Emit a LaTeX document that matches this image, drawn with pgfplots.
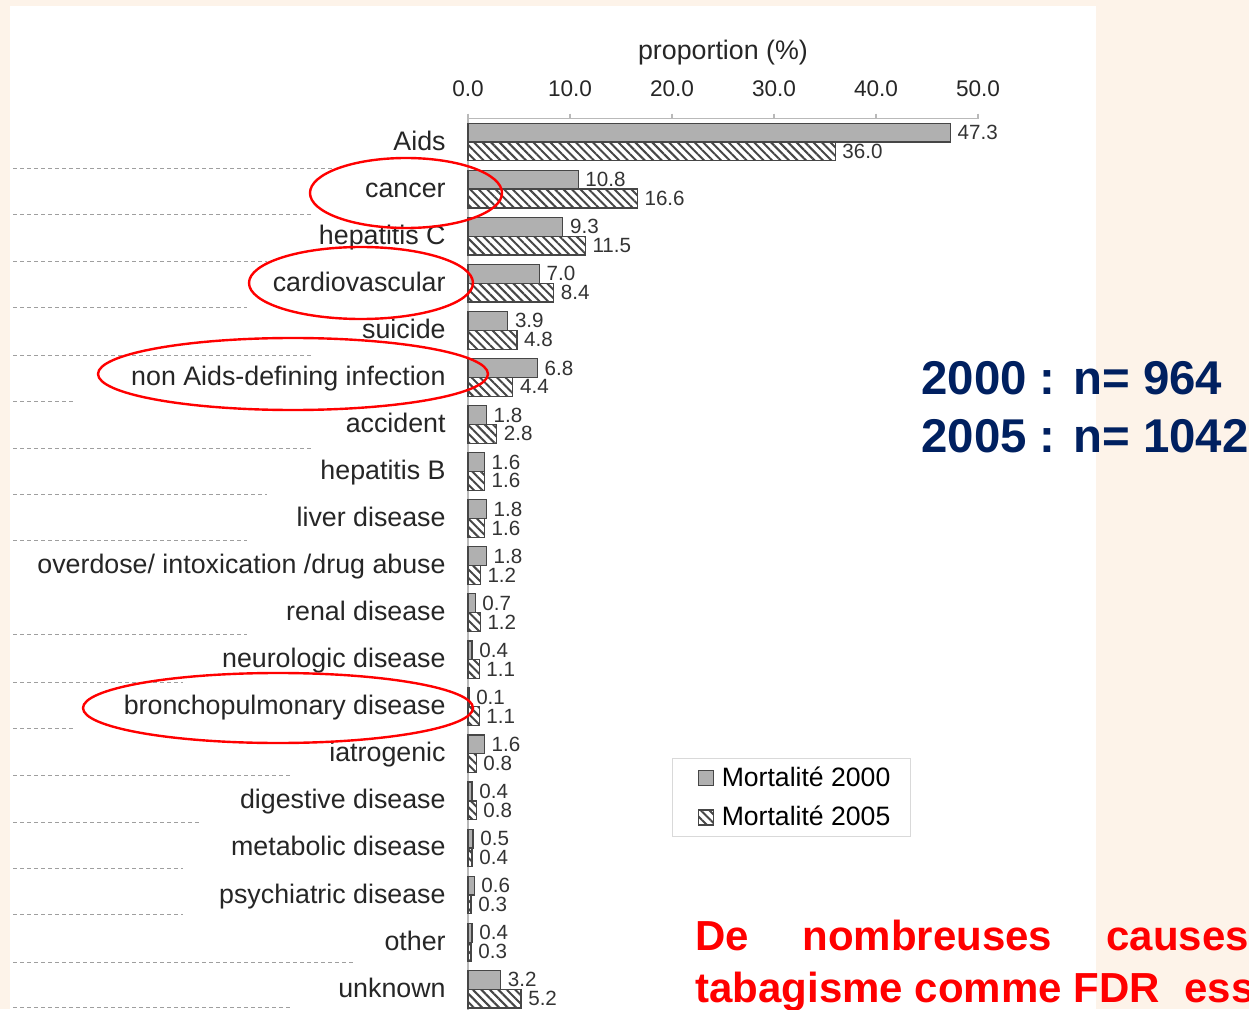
\documentclass[border=0pt]{standalone}
\usepackage{fontspec}
\setmainfont{Liberation Sans}
\usepackage{pgfplots}
\pgfplotsset{compat=1.18}
\usepackage{pgfplotstable}
\usetikzlibrary{patterns.meta}
\definecolor{bgpeach}{RGB}{253,243,233}
\definecolor{navy}{RGB}{0,32,96}
\definecolor{bargray}{RGB}{176,176,176}
\definecolor{edgegray}{RGB}{70,70,70}
\definecolor{axgray}{RGB}{185,185,185}

\pgfplotstableread{
y a b
18 47.3 36.0
17 10.8 16.6
16 9.3 11.5
15 7.0 8.4
14 3.9 4.8
13 6.8 4.4
12 1.8 2.8
11 1.6 1.6
10 1.8 1.6
9 1.8 1.2
8 0.7 1.2
7 0.4 1.1
6 0.1 1.1
5 1.6 0.8
4 0.4 0.8
3 0.5 0.4
2 0.6 0.3
1 0.4 0.3
0 3.2 5.2
}\mortdata

\begin{document}
\begin{tikzpicture}[x=0.5pt,y=0.5pt]
\useasboundingbox (0,0) rectangle (1249,1009);
\fill[bgpeach] (0,0) rectangle (1249,1009);
\fill[white] (10,0) rectangle (1096,1003);
\foreach \py/\len in {169/333,215/313,262/267,308/247,356/313,402/73,448/312,494/267,540/247,634/247,682/183,728/73,775/290,822/202,868/183,914/183,962/355,1007/290}
  \draw[gray!75, line width=0.5pt, dash pattern=on 2pt off 1.5pt] (13,{1009-\py}) -- (\len,{1009-\py});

\begin{axis}[
  at={(234pt,-1.85pt)}, anchor=south west,
  scale only axis, width=255pt, height=447.1pt,
  xmin=0, xmax=50, ymin=-0.5, ymax=18.5,
  axis x line*=top, axis y line*=left,
  axis line style={draw=axgray, line width=0.6pt, -},
  tick align=outside, major tick length=2.5pt, minor tick length=2.5pt,
  tick style={draw=axgray, line width=0.6pt},
  xtick={0,10,...,50},
  /pgf/number format/assume math mode=true,
  xticklabel style={/pgf/number format/fixed, /pgf/number format/fixed zerofill, /pgf/number format/precision=1,
     anchor=base, inner sep=0pt, yshift=8.5pt, font=\fontsize{11.3}{13}\selectfont, text=black!85},
  ytick={0,...,18},
  ytick style={draw=none},
  minor ytick={-0.5,0.5,...,18.5},
  yticklabels={unknown, other, psychiatric disease, metabolic disease, digestive disease, iatrogenic, bronchopulmonary disease, neurologic disease, renal disease, overdose/ intoxication /drug abuse, liver disease, hepatitis B, accident, non Aids-defining infection, suicide, cardiovascular, hepatitis C, cancer, Aids},
  yticklabel style={font=\fontsize{13.4}{16}\selectfont, anchor=base east, inner sep=0pt, xshift=-8.5pt, yshift=-4pt, text=black!85},
  xlabel={proportion (\%)},
  xlabel style={at={(axis description cs:0.5,1)}, anchor=base, inner sep=0pt, yshift=29.5pt, font=\fontsize{13.4}{16}\selectfont, text=black!85},
  xbar, bar width=0.4,
  point meta=x,
  nodes near coords,
  every node near coord/.append style={font=\fontsize{10.3}{12}\selectfont, text=black!80,
     /pgf/number format/fixed, /pgf/number format/fixed zerofill, /pgf/number format/precision=1},
  legend image code/.code={\path (0pt,0pt); \draw[#1] (4.5pt,-3.75pt) rectangle (12pt,3.75pt);},
  legend style={at={(0.4,0.2848)}, anchor=north west, draw=gray!30, line width=0.6pt,
     font=\fontsize{13.3}{16}\selectfont, inner xsep=8pt, inner ysep=2pt, row sep=4.5pt, column sep=2pt, cells={anchor=west}},
  clip=false,
]
\addplot[fill=bargray, draw=edgegray, line width=0.6pt, bar shift=0.2] table[x=a, y=y] {\mortdata};
\addplot[pattern={Lines[angle=-45,distance=3pt,line width=1pt]}, pattern color=edgegray, draw=edgegray, line width=0.6pt, bar shift=-0.2] table[x=b, y=y] {\mortdata};
\legend{Mortalité 2000, Mortalité 2005}
\end{axis}

\draw[red, line width=1.2pt] (406,816) ellipse [x radius=48pt, y radius=17.5pt];
\draw[red, line width=1.2pt] (361,726) ellipse [x radius=56pt, y radius=18pt];
\draw[red, line width=1.2pt] (293,635) ellipse [x radius=97.5pt, y radius=18pt];
\draw[red, line width=1.2pt] (278,301) ellipse [x radius=97.5pt, y radius=17.5pt];

\begin{scope}[every node/.style={anchor=base west, inner sep=0pt}]
\node[text=navy, font=\bfseries\fontsize{23.7}{28}\selectfont] at (921,614) {2000 : n= 964};
\node[text=navy, font=\bfseries\fontsize{23.7}{28}\selectfont] at (921,557) {2005 : n= 1042};
\node[text=red, font=\bfseries\fontsize{21}{25}\selectfont] at (695,59) {De};
\node[text=red, font=\bfseries\fontsize{21}{25}\selectfont] at (802,59) {nombreuses};
\node[text=red, font=\bfseries\fontsize{21}{25}\selectfont] at (1106,59) {causes};
\node[text=red, font=\bfseries\fontsize{21}{25}\selectfont] at (695,7) {tabagisme comme FDR};
\node[text=red, font=\bfseries\fontsize{21}{25}\selectfont] at (1184,7) {ess};
\end{scope}
\end{tikzpicture}
\end{document}
